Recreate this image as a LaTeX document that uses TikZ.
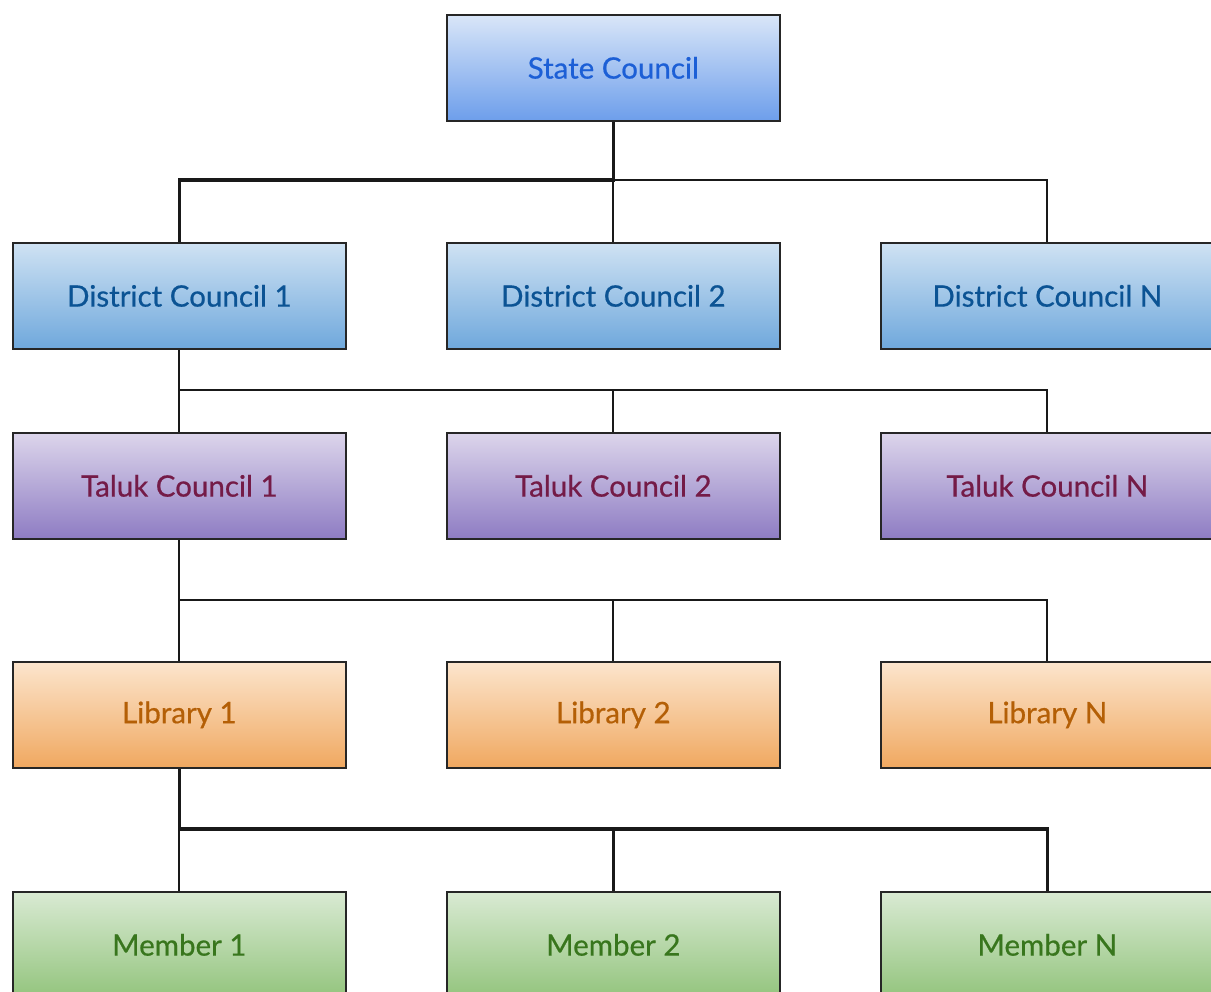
\documentclass[tikz,border=0pt]{standalone}
\usepackage{fontspec}
\setmainfont{Lato}
\newfontfamily\boxfont{Lato}[FakeBold=0.6]
\definecolor{stTop}{HTML}{D9E6F8}
\definecolor{stBot}{HTML}{6D9EEB}
\definecolor{stTxt}{HTML}{1C5FD6}
\definecolor{dTop}{HTML}{CFE2F3}
\definecolor{dBot}{HTML}{6FA8DC}
\definecolor{dTxt}{HTML}{0B5394}
\definecolor{tTop}{HTML}{DCD5EB}
\definecolor{tBot}{HTML}{8E7CC3}
\definecolor{tTxt}{HTML}{741B47}
\definecolor{lTop}{HTML}{FCE5CD}
\definecolor{lBot}{HTML}{F0A860}
\definecolor{lTxt}{HTML}{B45F06}
\definecolor{mTop}{HTML}{D9EAD3}
\definecolor{mBot}{HTML}{93C47D}
\definecolor{mTxt}{HTML}{38761D}
\begin{document}
\begin{tikzpicture}[x=1pt,y=-1pt,
  box/.style={draw=black!85, line width=1.7pt, minimum width=333pt, minimum height=106pt,
    anchor=north west, inner sep=0pt, font=\boxfont\fontsize{29.5}{34}\selectfont},
  stbox/.style={box, top color=stTop, bottom color=stBot, text=stTxt},
  dbox/.style={box, top color=dTop, bottom color=dBot, text=dTxt},
  tbox/.style={box, top color=tTop, bottom color=tBot, text=tTxt},
  lbox/.style={box, top color=lTop, bottom color=lBot, text=lTxt},
  mbox/.style={box, top color=mTop, bottom color=mBot, text=mTxt},
  thin/.style={line width=1.9pt, black!90},
  thick/.style={line width=3.2pt, black!90}]
\useasboundingbox (0,0) rectangle (1211,992);
\fill[white] (0,0) rectangle (1211,992);

\node[stbox] (s) at (446,14) {State Council};

\node[dbox] (d1) at (12,242) {District Council 1};
\node[dbox] (d2) at (446,242) {District Council 2};
\node[dbox] (dn) at (880,242) {District Council N};

\node[tbox] (t1) at (12,432) {Taluk Council 1};
\node[tbox] (t2) at (446,432) {Taluk Council 2};
\node[tbox] (tn) at (880,432) {Taluk Council N};

\node[lbox] (l1) at (12,661) {Library 1};
\node[lbox] (l2) at (446,661) {Library 2};
\node[lbox] (ln) at (880,661) {Library N};

\node[mbox] (m1) at (12,891) {Member 1};
\node[mbox] (m2) at (446,891) {Member 2};
\node[mbox] (mn) at (880,891) {Member N};

% level 1
\coordinate (j1) at (s.south |- 0,180);
\draw[thick] (s.south) -- (j1) -| (d1.north);
\draw[thin] (j1) -- (d2.north);
\draw[thin] (j1) -| (dn.north);

% level 2
\coordinate (j2) at (d1.south |- 0,390);
\draw[thin] (d1.south) -- (j2) -- (t1.north);
\draw[thin] (j2) -| (t2.north);
\draw[thin] (j2) -| (tn.north);

% level 3
\coordinate (j3) at (t1.south |- 0,600);
\draw[thin] (t1.south) -- (j3) -- (l1.north);
\draw[thin] (j3) -| (l2.north);
\draw[thin] (j3) -| (ln.north);

% level 4
\coordinate (j4) at (l1.south |- 0,829);
\draw[thick] (l1.south) -- (j4);
\draw[thin] (j4) -- (m1.north);
\draw[thick] (j4) -| (m2.north);
\draw[thick] (j4) -| (mn.north);
\end{tikzpicture}
\end{document}
